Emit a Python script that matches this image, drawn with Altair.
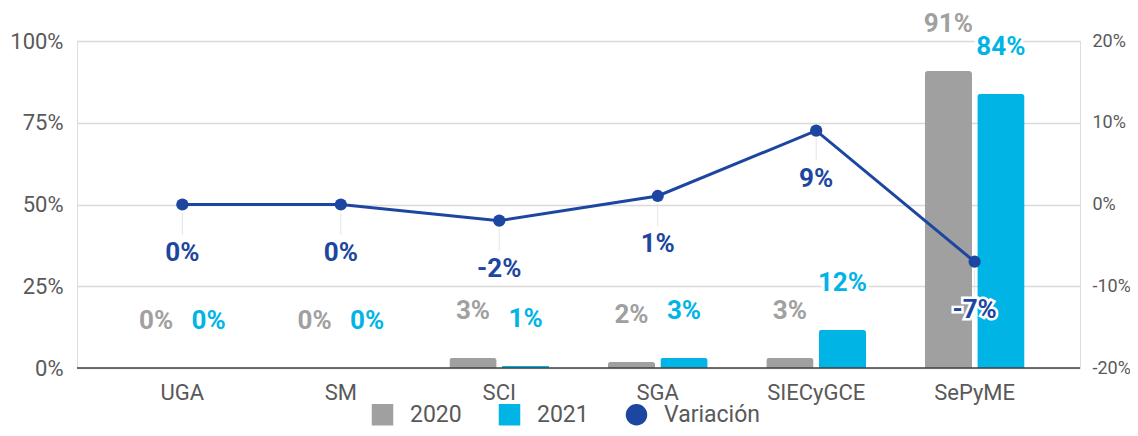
import altair as alt
import pandas as pd

categorias = ["UGA", "SM", "SCI", "SGA", "SIECyGCE", "SePyME"]
valores_2020 = [0.0, 0.0, 0.031, 0.019, 0.031, 0.908]
valores_2021 = [0.0, 0.0, 0.007, 0.031, 0.117, 0.838]
variacion = [0.0, 0.0, -0.0198, 0.0104, 0.0903, -0.070]

series = ["2020", "2021", "Variación"]
colores = ["#a0a0a0", "#00b5e6", "#1c46a0"]

rows = []
for c, a, b in zip(categorias, valores_2020, valores_2021):
    rows.append({"categoria": c, "serie": "2020", "valor": a})
    rows.append({"categoria": c, "serie": "2021", "valor": b})
bars_df = pd.DataFrame(rows)
line_df = pd.DataFrame({"categoria": categorias, "variacion": variacion,
                        "serie": ["Variación"] * len(categorias)})

FONT = "Roboto"
LABEL_COLOR = "#595959"
DATA_FS = 26

x_enc = alt.X("categoria:N", sort=categorias,
              scale=alt.Scale(paddingInner=0.37, paddingOuter=0.35),
              axis=alt.Axis(title=None, labelAngle=0, ticks=False, domain=False,
                            labelFontSize=22, labelColor=LABEL_COLOR,
                            labelPadding=14, labelFont=FONT))
xoff = alt.XOffset("serie:N", sort=["2020", "2021"],
                   scale=alt.Scale(paddingInner=0.1))
color_scale = alt.Scale(domain=series, range=colores)

y_left = alt.Y("valor:Q", scale=alt.Scale(domain=[0, 1]),
               axis=alt.Axis(title=None, format=".0%", values=[0, 0.25, 0.5, 0.75, 1],
                             orient="left", ticks=False, domain=False,
                             gridColor="#d9d9d9", gridWidth=1.5,
                             labelFontSize=22, labelColor=LABEL_COLOR,
                             labelPadding=14, labelFont=FONT))

bars = alt.Chart(bars_df).mark_bar(cornerRadiusTopLeft=3, cornerRadiusTopRight=3).encode(
    x=x_enc, xOffset=xoff, y=y_left,
    color=alt.Color("serie:N", scale=color_scale,
                    legend=alt.Legend(
                        title=None, orient="none", direction="horizontal",
                        legendX=294, legendY=362,
                        labelFontSize=23, labelColor=LABEL_COLOR, labelFont=FONT,
                        symbolSize=400, columnPadding=34,
                        labelOffset=16,
                        symbolType=alt.ExprRef(
                            "datum.value === 'Variación' ? 'circle' : 'square'")))
)

bar_halo = alt.Chart(bars_df).mark_text(
    dy=-47, fontSize=DATA_FS, fontWeight="bold", font=FONT, baseline="middle",
    stroke="white", strokeWidth=6, fill="white"
).encode(
    x=x_enc, xOffset=xoff, y=alt.Y("valor:Q"),
    text=alt.Text("valor:Q", format=".0%"),
)
bar_text = alt.Chart(bars_df).mark_text(
    dy=-47, fontSize=DATA_FS, fontWeight="bold", font=FONT, baseline="middle"
).encode(
    x=x_enc, xOffset=xoff, y=alt.Y("valor:Q"),
    text=alt.Text("valor:Q", format=".0%"),
    color=alt.Color("serie:N", scale=color_scale, legend=None),
)

baseline = alt.Chart(pd.DataFrame({"z": [0]})).mark_rule(color="#404040", strokeWidth=1.5).encode(
    y=alt.datum(0)
)

left = alt.layer(bars, baseline, bar_halo, bar_text)

y_right = alt.Y("variacion:Q", scale=alt.Scale(domain=[-0.2, 0.2]),
                axis=alt.Axis(title=None, format=".0%", values=[-0.2, -0.1, 0, 0.1, 0.2],
                              orient="right", ticks=False, domain=False, grid=False,
                              labelFontSize=18, labelColor=LABEL_COLOR,
                              labelPadding=12, labelFont=FONT))

leader = alt.Chart(line_df).mark_rule(color="#e3e3e3", strokeWidth=1, yOffset=8, y2Offset=30).encode(
    x=x_enc, y=y_right, y2=alt.Y2("variacion:Q"),
)
line = alt.Chart(line_df).mark_line(strokeWidth=3).encode(
    x=x_enc, y=alt.Y("variacion:Q"),
    color=alt.Color("serie:N", scale=color_scale, legend=None),
)
points = alt.Chart(line_df).mark_point(filled=True, size=150, opacity=1).encode(
    x=x_enc, y=alt.Y("variacion:Q"),
    color=alt.Color("serie:N", scale=color_scale, legend=None),
)
line_halo = alt.Chart(line_df).mark_text(
    dy=48, fontSize=DATA_FS, fontWeight="bold", font=FONT, baseline="middle",
    stroke="white", strokeWidth=5, fill="white"
).encode(
    x=x_enc, y=alt.Y("variacion:Q"),
    text=alt.Text("variacion:Q", format=".0%"),
)
line_text = alt.Chart(line_df).mark_text(
    dy=48, fontSize=DATA_FS, fontWeight="bold", font=FONT, baseline="middle"
).encode(
    x=x_enc, y=alt.Y("variacion:Q"),
    text=alt.Text("variacion:Q", format=".0%"),
    color=alt.Color("serie:N", scale=color_scale, legend=None),
)

right = alt.layer(leader, line, points, line_halo, line_text)

chart = alt.layer(left, right).resolve_scale(y="independent").properties(
    width=1003, height=327,
    autosize=alt.AutoSizeParams(type="none"),
    padding={"left": 69, "top": 33, "right": 50, "bottom": 60},
).configure_view(stroke=None).configure(
    locale=alt.Locale(number=alt.NumberLocale(
        decimal=".", thousands=",", grouping=[3], currency=["$", ""], minus="-"))
)

chart.save("out.html", embed_options={"renderer": "svg", "actions": False})
